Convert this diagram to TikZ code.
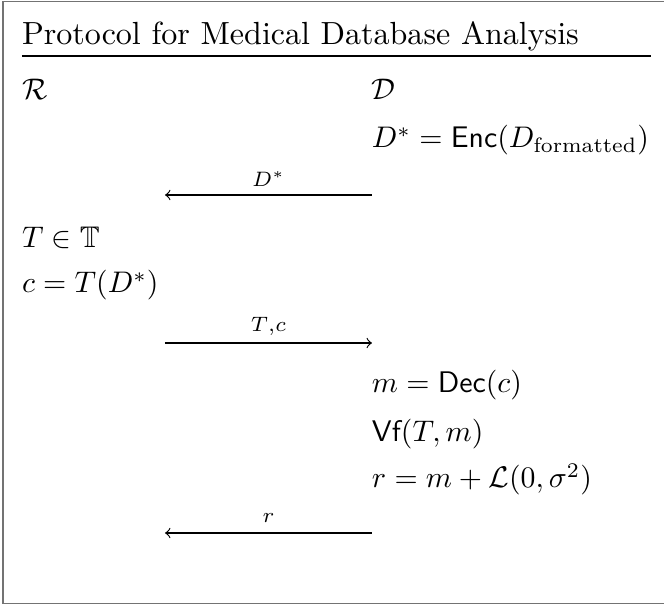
\documentclass[tikz,border=0pt]{standalone}
\usepackage{amsmath,amssymb}
\usepackage{fontspec}
\begin{document}
\begin{tikzpicture}[x=0.3356pt,y=-0.3356pt,
  txt/.style={anchor=base west,inner sep=0pt,outer sep=0pt},
  lbl/.style={anchor=base,inner sep=0pt,font=\scriptsize},
  msg/.style={line width=0.4pt},
  frame/.style={draw=black!55,line width=0.6pt}]
\useasboundingbox (0,0) rectangle (664,605);
\draw[frame] (680,1.5) -- (3,1.5) -- (3,603.5) -- (680,603.5);
\node[txt,font=\fontsize{10.75}{13}\selectfont] (title) at (22,45) {Protocol for Medical Database Analysis};
\coordinate (rl) at (22,56);
\coordinate (rr) at (651,56);
\draw[line width=0.4pt] (rl) -- (rr);
\node[txt] (R) at (22,100) {$\mathcal{R}$};
\node[txt] (D) at (372,100) {$\mathcal{D}$};
\node[txt] (enc) at (372,148) {$D^* = \textsf{Enc}(D_{\text{formatted}})$};
\coordinate (a1l) at (165,195);
\coordinate (a1r) at (372,195);
\draw[msg,->] (a1r) -- (a1l);
\node[lbl] (l1) at (268.5,187) {$D^*$};
\node[txt] (tin) at (22,248) {$T \in \mathbb{T}$};
\node[txt] (cdef) at (22,293) {$c = T(D^*)$};
\coordinate (a2l) at (165,343);
\coordinate (a2r) at (372,343);
\draw[msg,->] (a2l) -- (a2r);
\node[lbl] (l2) at (268.5,332) {$T{,}c$};
\node[txt] (dec) at (372,393) {$m = \textsf{Dec}(c)$};
\node[txt] (vf) at (372,442) {$\textsf{Vf}(T,m)$};
\node[txt] (rdef) at (372,488) {$r = m + \mathcal{L}(0,\sigma^2)$};
\coordinate (a3l) at (165,533);
\coordinate (a3r) at (372,533);
\draw[msg,->] (a3r) -- (a3l);
\node[lbl] (l3) at (268.5,523) {$r$};
\end{tikzpicture}
\end{document}
